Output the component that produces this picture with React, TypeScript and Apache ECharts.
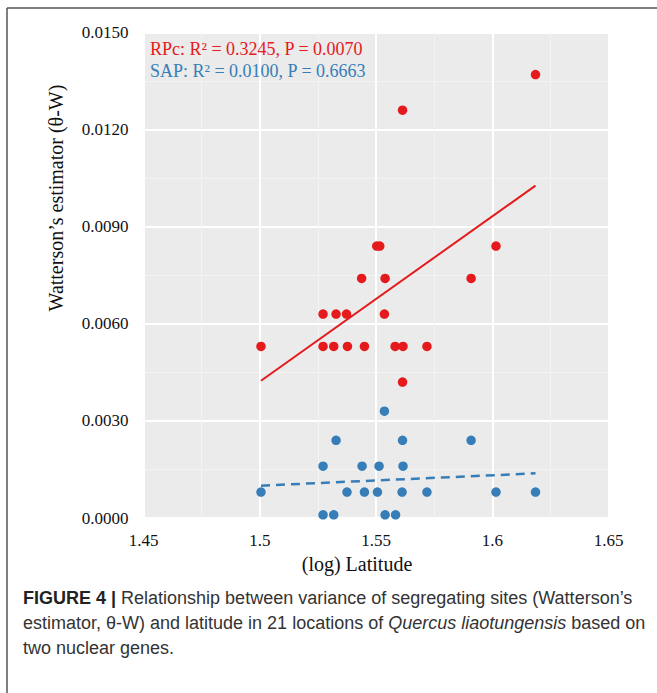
import React, { useEffect, useRef } from "react";
import * as echarts from "echarts";

// RPc (red) points: [log latitude, theta-W]
const rpcX = [1.5005, 1.5272, 1.5272, 1.5328, 1.5318, 1.5373, 1.5377, 1.5438, 1.545, 1.5503, 1.5516, 1.5539, 1.5536, 1.5582, 1.5616, 1.5614, 1.5614, 1.5719, 1.5909, 1.6016, 1.6186];
const rpcY = [0.0053, 0.0063, 0.0053, 0.0063, 0.0053, 0.0063, 0.0053, 0.0074, 0.0053, 0.0084, 0.0084, 0.0074, 0.0063, 0.0053, 0.0053, 0.0126, 0.0042, 0.0053, 0.0074, 0.0084, 0.0137];

// SAP (blue) points
const sapX = [1.5005, 1.5272, 1.5272, 1.5318, 1.5328, 1.5375, 1.544, 1.545, 1.5506, 1.5513, 1.5536, 1.5539, 1.5584, 1.5614, 1.5616, 1.5612, 1.5719, 1.5909, 1.6016, 1.6186];
const sapY = [0.0008, 0.0016, 0.0001, 0.0001, 0.0024, 0.0008, 0.0016, 0.0008, 0.0008, 0.0016, 0.0033, 0.0001, 0.0001, 0.0024, 0.0016, 0.0008, 0.0008, 0.0024, 0.0008, 0.0008];

// Regression line endpoints
const rpcFitX = [1.5005, 1.6186];
const rpcFitY = [0.00424, 0.01027];
const sapFitX = [1.5005, 1.6186];
const sapFitY = [0.001, 0.00138];

const xTicks = { min: 1.45, max: 1.65, interval: 0.05 };
const yTicks = { min: 0, max: 0.015, interval: 0.003 };

const rpcLabel = "RPc: R² = 0.3245, P = 0.0070";
const sapLabel = "SAP: R² = 0.0100, P = 0.6663";
const xTitle = "(log) Latitude";
const yTitle = "Watterson’s estimator (θ-W)";

const RED = "#e41a1c";
const BLUE = "#377eb8";
const SERIF = "'Liberation Serif', 'Times New Roman', serif";
const SANS = "'Liberation Sans', Arial, sans-serif";

const zip = (xs: number[], ys: number[]) => xs.map((x, i) => [x, ys[i]]);

export default function App() {
  const ref = useRef<HTMLDivElement>(null);
  useEffect(() => {
    if (!ref.current) return;
    const chart = echarts.init(ref.current, null, { renderer: "svg" });
    chart.setOption({
      animation: false,
      backgroundColor: "#ffffff",
      grid: { left: 143.6, right: 48.5, top: 32.5, bottom: 175, containLabel: false, show: true, backgroundColor: "#ebebeb", borderWidth: 0 },
      xAxis: {
        type: "value",
        min: xTicks.min,
        max: xTicks.max,
        interval: xTicks.interval,
        axisLine: { show: false },
        axisTick: { show: false },
        axisLabel: { color: "#111", fontFamily: SERIF, fontSize: 17, margin: 14 },
        splitLine: { show: true, lineStyle: { color: "#ffffff", width: 2 } },
        minorTick: { show: false, splitNumber: 2 },
        minorSplitLine: { show: true, lineStyle: { color: "#f3f3f3", width: 1 } },
      },
      yAxis: {
        type: "value",
        min: yTicks.min,
        max: yTicks.max,
        interval: yTicks.interval,
        axisLine: { show: false },
        axisTick: { show: false },
        axisLabel: { color: "#111", fontFamily: SERIF, fontSize: 17, margin: 15, formatter: (v: number) => v.toFixed(4) },
        splitLine: { show: true, lineStyle: { color: "#ffffff", width: 2 } },
        minorTick: { show: false, splitNumber: 2 },
        minorSplitLine: { show: true, lineStyle: { color: "#f3f3f3", width: 1 } },
      },
      series: [
        {
          type: "line",
          data: zip(rpcFitX, rpcFitY),
          symbol: "none",
          lineStyle: { color: RED, width: 2 },
          z: 3,
        },
        {
          type: "line",
          data: zip(sapFitX, sapFitY),
          symbol: "none",
          lineStyle: { color: BLUE, width: 2.5, type: [9, 6] },
          z: 3,
        },
        {
          type: "scatter",
          data: zip(rpcX, rpcY),
          symbolSize: 9.5,
          itemStyle: { color: RED, opacity: 1 },
          z: 4,
        },
        {
          type: "scatter",
          data: zip(sapX, sapY),
          symbolSize: 9.5,
          itemStyle: { color: BLUE, opacity: 1 },
          z: 4,
        },
      ],
      graphic: [
        { type: "line", shape: { x1: 7, y1: 8, x2: 657, y2: 8 }, style: { stroke: "#555", lineWidth: 1.5 } },
        { type: "line", shape: { x1: 7, y1: 8, x2: 7, y2: 693 }, style: { stroke: "#555", lineWidth: 1.5 } },
        {
          type: "text",
          x: 150,
          y: 49,
          style: { text: rpcLabel, fill: RED, font: `18px ${SERIF}`, verticalAlign: "middle" },
          z: 10,
        },
        {
          type: "text",
          x: 150,
          y: 71,
          style: { text: sapLabel, fill: BLUE, font: `18px ${SERIF}`, verticalAlign: "middle" },
          z: 10,
        },
        {
          type: "text",
          x: 357,
          y: 564,
          style: { text: xTitle, fill: "#111", font: `20px ${SERIF}`, align: "center", verticalAlign: "middle" },
        },
        {
          type: "text",
          x: 56,
          y: 198,
          rotation: Math.PI / 2,
          style: { text: yTitle, fill: "#111", font: `20px ${SERIF}`, align: "center", verticalAlign: "middle" },
        },
        {
          type: "text",
          x: 23,
          y: 585,
          style: {
            text:
              "{b|FIGURE 4 |} Relationship between variance of segregating sites (Watterson’s\n" +
              "estimator, θ-W) and latitude in 21 locations of {i|Quercus liaotungensis} based on\n" +
              "two nuclear genes.",
            fill: "#333",
            font: `18px ${SANS}`,
            lineHeight: 25,
            rich: {
              b: { fontWeight: "bold", fontSize: 18, fontFamily: SANS, fill: "#222", lineHeight: 25 },
              i: { fontStyle: "italic", fontSize: 18, fontFamily: SANS, fill: "#333", lineHeight: 25 },
            },
          },
        },
      ],
    });
    return () => chart.dispose();
  }, []);
  return <div ref={ref} style={{ position: "fixed", left: 0, top: 0, width: 657, height: 693 }} />;
}
